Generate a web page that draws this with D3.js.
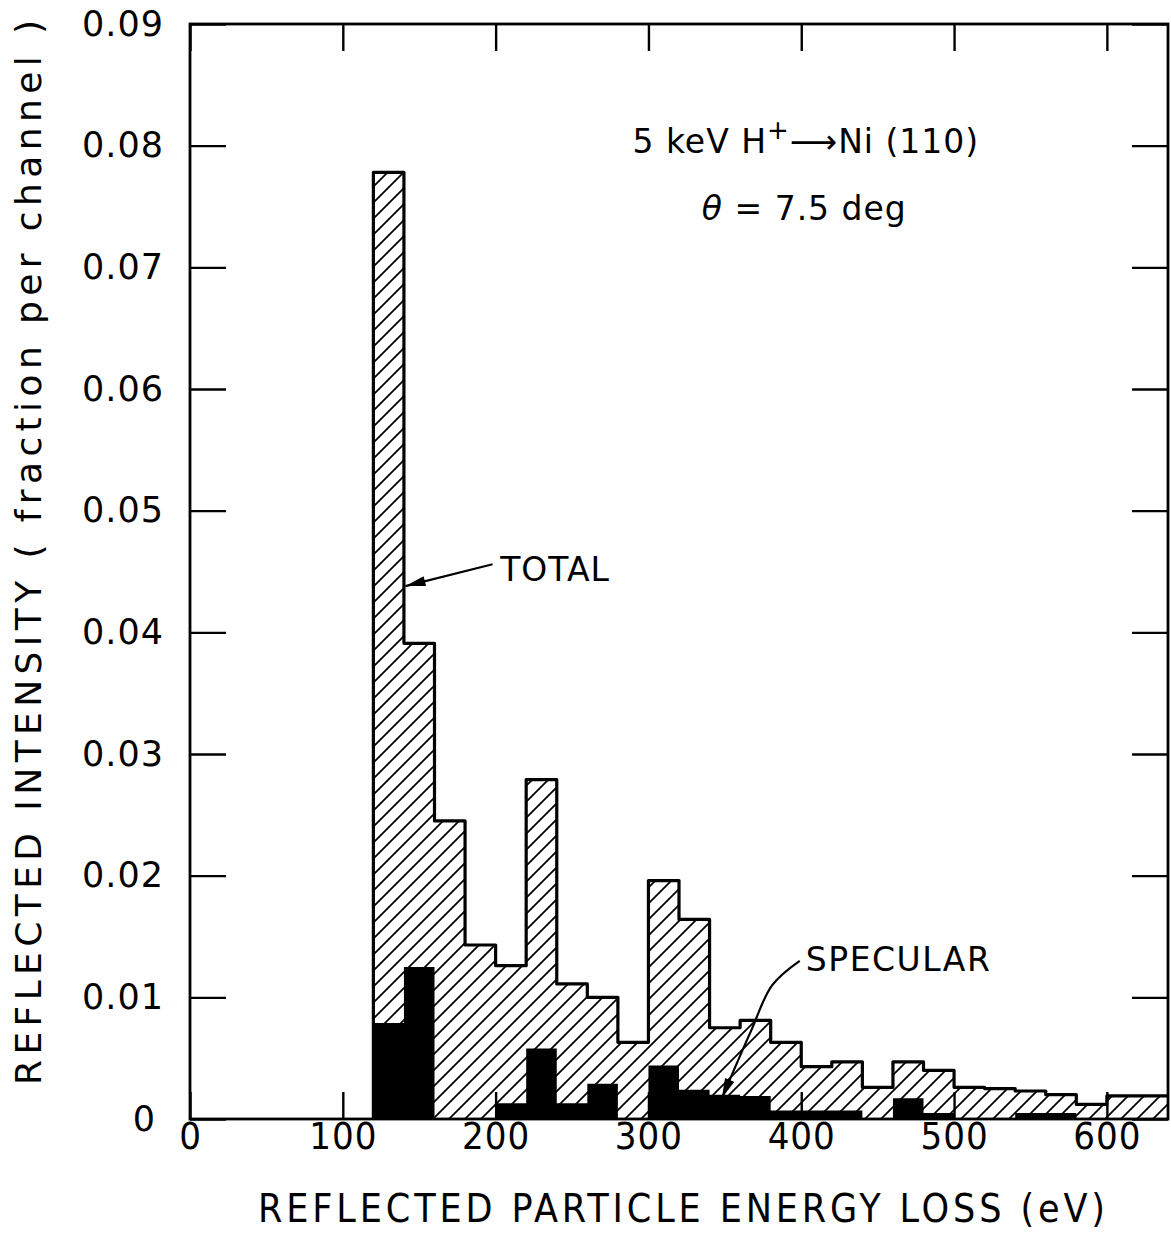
<!DOCTYPE html>
<html>
<head>
<meta charset="utf-8">
<script src="https://cdn.jsdelivr.net/npm/d3@7"></script>
<style>
  html, body { margin: 0; padding: 0; background: #fff; }
  svg { display: block; }
</style>
</head>
<body>
<svg id="chart"></svg>
<script>
// bin edges (eV), 20 eV channels
const binEdges = [120, 140, 160, 180, 200, 220, 240, 260, 280, 300, 320, 340, 360,
                  380, 400, 420, 440, 460, 480, 500, 520, 540, 560, 580, 600, 620, 640];
// total reflected intensity per channel
const totalVals = [0.0778, 0.0391, 0.0245, 0.0143, 0.0126, 0.0279, 0.0111, 0.0100, 0.0063,
                   0.0196, 0.0164, 0.0075, 0.0081, 0.0063, 0.0043, 0.0047, 0.0026, 0.0047,
                   0.0040, 0.0026, 0.0025, 0.0023, 0.0020, 0.0012, 0.0019, 0.0019];
// specular part
const specVals = [0.0079, 0.0125, 0, 0, 0.0013, 0.0058, 0.0013, 0.0029, 0,
                  0.0044, 0.0024, 0.0020, 0.0019, 0.0007, 0.0007, 0.0007, 0, 0.0017,
                  0.0005, 0, 0, 0.0005, 0.0005, 0, 0, 0];
const xTicks = [0, 100, 200, 300, 400, 500, 600];
const yTicks = [0, 0.01, 0.02, 0.03, 0.04, 0.05, 0.06, 0.07, 0.08, 0.09];

const width = 1171, height = 1237;
const mLeft = 190, mRight = 1168, mTop = 24, mBottom = 1119;
const font = '"DejaVu Sans", "Liberation Sans", sans-serif';
const condFont = '"DejaVu Sans Condensed", "DejaVu Sans", sans-serif';

const svg = d3.select('#chart')
  .attr('width', width)
  .attr('height', height)
  .attr('viewBox', [0, 0, width, height]);

const x = d3.scaleLinear().domain([0, 640]).range([mLeft, mRight]);
const y = d3.scaleLinear().domain([0, 0.09]).range([mBottom, mTop]);

const defs = svg.append('defs');

// diagonal hatch for the total histogram
const hatch = defs.append('pattern')
  .attr('id', 'hatch')
  .attr('patternUnits', 'userSpaceOnUse')
  .attr('width', 16).attr('height', 16);
hatch.append('rect').attr('width', 16).attr('height', 16).attr('fill', '#fff');
hatch.append('path')
  .attr('d', 'M-4,4 L4,-4 M0,16 L16,0 M12,20 L20,12')
  .attr('stroke', '#000')
  .attr('stroke-width', 1.8);

defs.append('marker')
  .attr('id', 'head')
  .attr('viewBox', '0 0 20 10')
  .attr('refX', 20).attr('refY', 5)
  .attr('markerWidth', 22).attr('markerHeight', 10)
  .attr('markerUnits', 'userSpaceOnUse')
  .attr('orient', 'auto')
  .append('path')
  .attr('d', 'M0,0 L20,5 L0,10 Z')
  .attr('fill', '#000');

const totalPts = binEdges.map((e, i) => [e, i < totalVals.length ? totalVals[i] : totalVals[totalVals.length - 1]]);
const specPts = binEdges.map((e, i) => [e, i < specVals.length ? specVals[i] : 0]);

const area = d3.area()
  .x(d => x(d[0]))
  .y0(y(0))
  .y1(d => y(d[1]))
  .curve(d3.curveStepAfter);

svg.append('path')
  .attr('d', area(totalPts))
  .attr('fill', 'url(#hatch)');

svg.append('path')
  .attr('d', area(specPts))
  .attr('fill', '#000');

const line = d3.line()
  .x(d => x(d[0]))
  .y(d => y(d[1]))
  .curve(d3.curveStepAfter);

svg.append('path')
  .attr('d', line([[binEdges[0], 0]].concat(totalPts)))
  .attr('fill', 'none')
  .attr('stroke', '#000')
  .attr('stroke-width', 3.2)
  .attr('stroke-linejoin', 'round');

// axes, ticks pointing inward
const axes = svg.append('g');

const yLeft = axes.append('g')
  .attr('transform', `translate(${mLeft},0)`)
  .call(d3.axisLeft(y).tickValues(yTicks)
    .tickFormat(d => d === 0 ? '0' : d3.format('.2f')(d))
    .tickSizeInner(-36).tickSizeOuter(0).tickPadding(26));

axes.append('g')
  .attr('transform', `translate(${mRight},0)`)
  .call(d3.axisRight(y).tickValues(yTicks).tickFormat('')
    .tickSizeInner(-36).tickSizeOuter(0));

const xBottom = axes.append('g')
  .attr('transform', `translate(0,${mBottom})`)
  .call(d3.axisBottom(x).tickValues(xTicks).tickFormat(d3.format('d'))
    .tickSizeInner(-27).tickSizeOuter(0).tickPadding(3));

axes.append('g')
  .attr('transform', `translate(0,${mTop})`)
  .call(d3.axisTop(x).tickValues(xTicks).tickFormat('')
    .tickSizeInner(-27).tickSizeOuter(0));

axes.selectAll('.domain').remove();
axes.selectAll('.tick line').attr('stroke', '#000').attr('stroke-width', 2.4);

yLeft.selectAll('text')
  .attr('font-family', font)
  .attr('font-size', 35)
  .attr('letter-spacing', 1)
  .attr('fill', '#000')
  .attr('dx', d => d === 0 ? -8 : 0);

xBottom.selectAll('text')
  .attr('font-family', condFont)
  .attr('font-size', 38)
  .attr('letter-spacing', 1)
  .attr('fill', '#000');

svg.append('rect')
  .attr('x', mLeft).attr('y', mTop)
  .attr('width', mRight - mLeft).attr('height', mBottom - mTop)
  .attr('fill', 'none')
  .attr('stroke', '#000')
  .attr('stroke-width', 2.8);

// axis titles
svg.append('text')
  .attr('x', (258 + 1105) / 2)
  .attr('y', 1222)
  .attr('text-anchor', 'middle')
  .attr('font-family', condFont)
  .attr('font-size', 39)
  .attr('textLength', 847)
  .attr('lengthAdjust', 'spacing')
  .text('REFLECTED PARTICLE ENERGY LOSS (eV)');

svg.append('text')
  .attr('transform', `translate(41,${(20 + 1085) / 2}) rotate(-90)`)
  .attr('text-anchor', 'middle')
  .attr('font-family', font)
  .attr('font-size', 36)
  .attr('textLength', 1065)
  .attr('lengthAdjust', 'spacing')
  .text('REFLECTED INTENSITY  ( fraction  per channel )');

// annotation
const note = svg.append('text')
  .attr('x', x(403))
  .attr('y', y(0.0794))
  .attr('text-anchor', 'middle')
  .attr('font-family', font)
  .attr('font-size', 33)
  .attr('letter-spacing', 1);
note.append('tspan').text('5 keV  H');
note.append('tspan').attr('dy', -14).attr('font-size', 26).text('+');
note.append('tspan').attr('dy', 14).text('\u27F6Ni  (110)');

svg.append('text')
  .attr('x', x(402))
  .attr('y', y(0.0739))
  .attr('text-anchor', 'middle')
  .attr('font-family', font)
  .attr('font-size', 33)
  .attr('letter-spacing', 1)
  .html('<tspan font-style="italic">\u03B8</tspan> = 7.5  deg');

// TOTAL label and arrow
svg.append('text')
  .attr('x', x(203))
  .attr('y', y(0.0442))
  .attr('font-family', font)
  .attr('font-size', 33)
  .attr('letter-spacing', 1)
  .text('TOTAL');

svg.append('line')
  .attr('x1', x(198)).attr('y1', y(0.0456))
  .attr('x2', x(141)).attr('y2', y(0.0438))
  .attr('stroke', '#000')
  .attr('stroke-width', 2.2)
  .attr('marker-end', 'url(#head)');

// SPECULAR label and curved arrow
svg.append('text')
  .attr('x', x(403))
  .attr('y', y(0.0122))
  .attr('font-family', font)
  .attr('font-size', 33)
  .attr('letter-spacing', 1.5)
  .text('SPECULAR');

const curve = d3.line()
  .x(d => x(d[0]))
  .y(d => y(d[1]))
  .curve(d3.curveCatmullRom.alpha(0.5));

svg.append('path')
  .attr('d', curve([[399, 0.0130], [381, 0.0110], [367, 0.0072], [348, 0.0017]]))
  .attr('fill', 'none')
  .attr('stroke', '#000')
  .attr('stroke-width', 2.2)
  .attr('marker-end', 'url(#head)');
</script>
</body>
</html>
